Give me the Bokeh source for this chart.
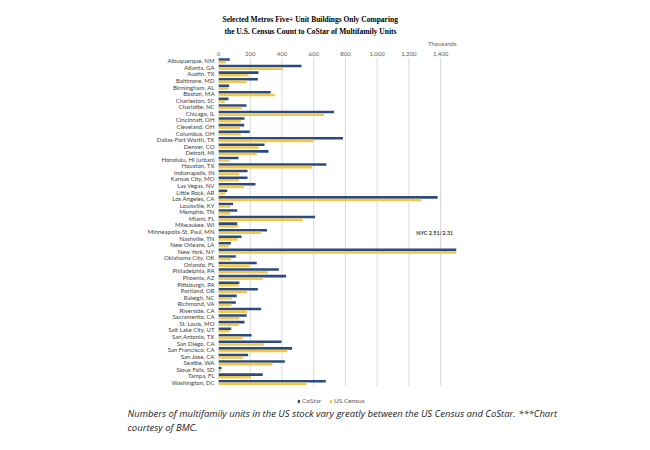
from bokeh.plotting import figure
from bokeh.models import (ColumnDataSource, FactorRange, Range1d, FixedTicker,
                          NumeralTickFormatter, Title, Legend, LegendItem)
from bokeh.transform import dodge
from bokeh.core.properties import value
from bokeh.embed import file_html
from bokeh.resources import INLINE

cities = ["Albuquerque, NM", "Atlanta, GA", "Austin, TX", "Baltimore, MD", "Birmingham, AL",
          "Boston, MA", "Charleston, SC", "Charlotte, NC", "Chicago, IL", "Cincinnati, OH",
          "Cleveland, OH", "Columbus, OH", "Dallas-Fort Worth, TX", "Denver, CO", "Detroit, MI",
          "Honolulu, HI (urban)", "Houston, TX", "Indianapolis, IN", "Kansas City, MO",
          "Las Vegas, NV", "Little Rock, AR", "Los Angeles, CA", "Louisville, KY", "Memphis, TN",
          "Miami, FL", "Milwaukee, WI", "Minneapolis-St. Paul, MN", "Nashville, TN",
          "New Orleans, LA", "New York, NY", "Oklahoma City, OK", "Orlando, FL",
          "Philadelphia, PA", "Phoenix, AZ", "Pittsburgh, PA", "Portland, OR", "Raleigh, NC",
          "Richmond, VA", "Riverside, CA", "Sacramento, CA", "St. Louis, MO",
          "Salt Lake City, UT", "San Antonio, TX", "San Diego, CA", "San Francisco, CA",
          "San Jose, CA", "Seattle, WA", "Sioux Falls, SD", "Tampa, FL", "Washington, DC"]

costar = [71, 523, 252, 248, 67, 329, 63, 176, 728, 164,
          162, 197, 785, 290, 315, 126, 680, 183, 183,
          233, 55, 1381, 92, 118, 609, 118, 306, 145,
          78, 2510, 109, 241, 380, 426, 132, 248, 115,
          109, 269, 178, 164, 80, 208, 397, 464,
          187, 418, 19, 279, 676]

census = [46, 407, 189, 178, 63, 355, 40, 147, 665, 141,
          136, 141, 598, 252, 241, 71, 590, 130, 130,
          162, 44, 1278, 73, 73, 531, 126, 267, 120,
          65, 2310, 78, 195, 311, 279, 126, 180, 84,
          82, 180, 132, 128, 69, 153, 285, 434,
          153, 340, 15, 204, 556]

x_ticks = [0, 200, 400, 600, 800, 1000, 1200, 1400]
series_names = ["CoStar", "US Census"]
title_lines = ["Selected Metros Five+ Unit Buildings Only Comparing",
               "the U.S. Census Count to CoStar of Multifamily Units"]
unit_label = "Thousands"
nyc_note = "NYC 2.51/2.31"
caption_lines = ["Numbers of multifamily units in the US stock vary greatly between the US Census and CoStar. ***Chart",
                 "courtesy of BMC."]

BLUE = "#2B4B7E"
YELLOW = "#F5C746"
GRID = "#D9D9D9"
FONT = "Lato"

# blank rows below the last metro leave room for the legend inside the frame
spacer_rows = ["   ", "  ", " "]

src = ColumnDataSource(dict(city=cities, costar=costar, census=census))

p = figure(width=634, height=434, output_backend="svg", toolbar_location=None, title=None,
           y_range=FactorRange(factors=spacer_rows + list(reversed(cities))),
           x_range=Range1d(0, 1500), x_axis_location="above",
           min_border_left=218, min_border_right=178, min_border_top=57, min_border_bottom=25)
p.outline_line_color = None
p.background_fill_color = "white"
p.border_fill_color = "white"

# vertical gridlines spanning only the metro rows
gsrc = ColumnDataSource(dict(x=x_ticks, top=[cities[0]] * len(x_ticks),
                             bot=[cities[-1]] * len(x_ticks)))
p.segment(x0="x", x1="x", y0=dodge("top", 0.5, range=p.y_range),
          y1=dodge("bot", -0.5, range=p.y_range), source=gsrc,
          line_color=GRID, line_width=1, level="underlay")

r1 = p.hbar(y=dodge("city", 0.2, range=p.y_range), left=0, right="costar", height=0.39,
            source=src, fill_color=BLUE, line_color=None)
r2 = p.hbar(y=dodge("city", -0.2, range=p.y_range), left=0, right="census", height=0.39,
            source=src, fill_color=YELLOW, line_color=None)

xa = p.xaxis[0]
xa.ticker = FixedTicker(ticks=x_ticks)
xa.formatter = NumeralTickFormatter(format="0,0")
xa.axis_line_color = None
xa.major_tick_line_color = None
xa.major_tick_out = 0
xa.major_tick_in = 0
xa.minor_tick_line_color = None
xa.minor_tick_out = 0
xa.major_label_standoff = 2
xa.major_label_text_font = FONT
xa.major_label_text_font_size = "6px"
xa.major_label_text_color = "#595959"

ya = p.yaxis[0]
ya.axis_line_color = None
ya.major_tick_line_color = None
ya.major_tick_out = 0
ya.major_tick_in = 0
ya.minor_tick_line_color = None
ya.minor_tick_out = 0
ya.major_label_standoff = 4
ya.major_label_text_font = FONT
ya.major_label_text_font_size = "6px"
ya.major_label_text_color = "#404040"

p.xgrid.grid_line_color = None
p.ygrid.grid_line_color = None

p.text(x=[1362], y=[cities[26]], text=[nyc_note], text_font=value(FONT),
       text_font_size="5.5px", text_font_style="bold", text_align="center",
       text_baseline="middle", text_color="#404040", y_offset=1.5)

# above panel: axis (nearest), units label, title line 2, title line 1
p.add_layout(Title(text=unit_label, align="right", text_font=FONT, text_font_size="6px",
                   text_font_style="normal", text_color="#595959", standoff=3, offset=0), "above")
p.add_layout(Title(text=title_lines[1], align="left", text_font="Liberation Serif",
                   text_font_size="7.5px", text_font_style="bold", text_color="#000000",
                   standoff=1, offset=6), "above")
p.add_layout(Title(text=title_lines[0], align="left", text_font="Liberation Serif",
                   text_font_size="7.5px", text_font_style="bold", text_color="#000000",
                   standoff=1, offset=4), "above")

legend = Legend(items=[LegendItem(label=series_names[0], renderers=[r1]),
                       LegendItem(label=series_names[1], renderers=[r2])],
                location=(79, 1), orientation="horizontal",
                glyph_width=3, glyph_height=4, label_standoff=2, spacing=7,
                padding=0, margin=0, border_line_color=None, background_fill_alpha=0,
                label_text_font=FONT, label_text_font_size="6.5px", label_text_color="#595959",
                label_height=6)
p.add_layout(legend, "center")

# caption below the frame (two lines in one title)
p.add_layout(Title(text="\n".join(caption_lines), align="left", text_font="Open Sans",
                   text_font_size="9.5px", text_font_style="italic", text_color="#222222",
                   text_line_height=1.1, standoff=0, offset=-91), "below")

open("out.html", "w").write(file_html(p, INLINE))
